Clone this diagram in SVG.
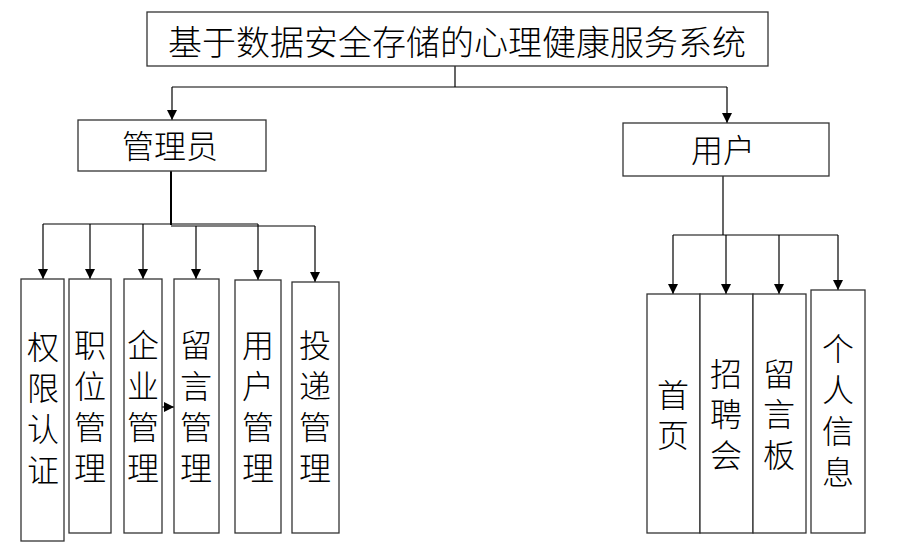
<svg xmlns="http://www.w3.org/2000/svg" width="897" height="558" viewBox="0 0 897 558">
<style>
.box{fill:#fff;stroke:#333;stroke-width:1.3}
.t{font-family:"Noto Sans CJK SC","Liberation Serif",sans-serif;font-weight:300;fill:#000;text-anchor:middle;dominant-baseline:central}
.ln{fill:none;stroke:#000;stroke-width:1.2}
</style>
<defs>
<marker id="ah" viewBox="0 0 10 10" refX="10" refY="5" markerWidth="10" markerHeight="11" markerUnits="userSpaceOnUse" orient="auto">
<path d="M0,0 L10,5 L0,10 z" fill="#000"/>
</marker>
</defs>
<rect width="897" height="558" fill="#fff"/>
<g id="connectors">
<path class="ln" d="M455,66 V87 M172,87 H727"/>
<path class="ln" d="M172,87 V120" marker-end="url(#ah)"/>
<path class="ln" d="M727,87 V123" marker-end="url(#ah)"/>
<path class="ln" style="stroke-width:2" d="M171,171 V225"/>
<path class="ln" d="M43,224 H258 M171,226 H315"/>
<path class="ln" d="M43,224 V279" marker-end="url(#ah)"/>
<path class="ln" d="M90,224 V279" marker-end="url(#ah)"/>
<path class="ln" d="M143,224 V279" marker-end="url(#ah)"/>
<path class="ln" d="M196,226 V279" marker-end="url(#ah)"/>
<path class="ln" d="M258,224 V280" marker-end="url(#ah)"/>
<path class="ln" d="M315,226 V282" marker-end="url(#ah)"/>
<path class="ln" d="M162,407 H174" marker-end="url(#ah)"/>
<path class="ln" d="M723,176 V235 M673,235 H838"/>
<path class="ln" d="M673,235 V294" marker-end="url(#ah)"/>
<path class="ln" d="M726,235 V294" marker-end="url(#ah)"/>
<path class="ln" d="M779,235 V294" marker-end="url(#ah)"/>
<path class="ln" d="M838,235 V290" marker-end="url(#ah)"/>
</g>
<g id="root">
<rect class="box" x="147" y="12" width="621" height="54"/>
<text class="t" x="457" y="40" font-size="34">基于数据安全存储的心理健康服务系统</text>
</g>
<g id="admin">
<rect class="box" x="78" y="120" width="188" height="51"/>
<text class="t" x="170" y="144" font-size="32">管理员</text>
</g>
<g id="user">
<rect class="box" x="623" y="123" width="206" height="53"/>
<text class="t" x="723" y="148" font-size="32">用户</text>
</g>
<g id="n1">
<rect class="box" x="21" y="279" width="43" height="262"/>
<text class="t" font-size="32"><tspan x="43" y="345">权</tspan><tspan x="43" y="386">限</tspan><tspan x="43" y="427">认</tspan><tspan x="43" y="468">证</tspan></text>
</g>
<g id="n2">
<rect class="box" x="69" y="279" width="42" height="254"/>
<text class="t" font-size="32"><tspan x="90" y="343">职</tspan><tspan x="90" y="384">位</tspan><tspan x="90" y="425">管</tspan><tspan x="90" y="466">理</tspan></text>
</g>
<g id="n3">
<rect class="box" x="124" y="279" width="38" height="254"/>
<text class="t" font-size="32"><tspan x="143" y="343">企</tspan><tspan x="143" y="384">业</tspan><tspan x="143" y="425">管</tspan><tspan x="143" y="466">理</tspan></text>
</g>
<g id="n4">
<rect class="box" x="174" y="279" width="45" height="254"/>
<text class="t" font-size="32"><tspan x="196" y="343">留</tspan><tspan x="196" y="384">言</tspan><tspan x="196" y="425">管</tspan><tspan x="196" y="466">理</tspan></text>
</g>
<g id="n5">
<rect class="box" x="235" y="280" width="46" height="253"/>
<text class="t" font-size="32"><tspan x="258" y="343">用</tspan><tspan x="258" y="384">户</tspan><tspan x="258" y="425">管</tspan><tspan x="258" y="466">理</tspan></text>
</g>
<g id="n6">
<rect class="box" x="292" y="282" width="47" height="251"/>
<text class="t" font-size="32"><tspan x="315" y="343">投</tspan><tspan x="315" y="384">递</tspan><tspan x="315" y="425">管</tspan><tspan x="315" y="466">理</tspan></text>
</g>
<g id="u1">
<rect class="box" x="647" y="294" width="53" height="239"/>
<text class="t" font-size="32"><tspan x="673" y="393">首</tspan><tspan x="673" y="433">页</tspan></text>
</g>
<g id="u2">
<rect class="box" x="700" y="294" width="53" height="239"/>
<text class="t" font-size="32"><tspan x="726" y="372">招</tspan><tspan x="726" y="412">聘</tspan><tspan x="726" y="453">会</tspan></text>
</g>
<g id="u3">
<rect class="box" x="753" y="294" width="53" height="239"/>
<text class="t" font-size="32"><tspan x="779" y="372">留</tspan><tspan x="779" y="412">言</tspan><tspan x="779" y="453">板</tspan></text>
</g>
<g id="u4">
<rect class="box" x="811" y="290" width="54" height="243"/>
<text class="t" font-size="32"><tspan x="838" y="347">个</tspan><tspan x="838" y="388">人</tspan><tspan x="838" y="429">信</tspan><tspan x="838" y="470">息</tspan></text>
</g>
</svg>
